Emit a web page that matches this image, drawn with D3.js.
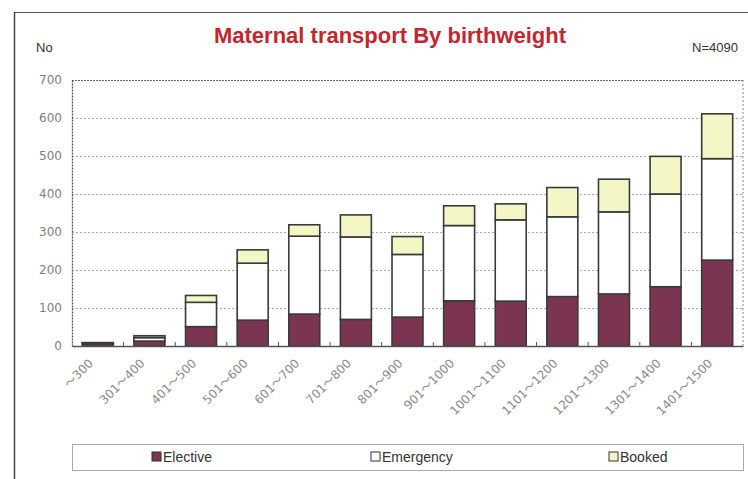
<!DOCTYPE html>
<html>
<head>
<meta charset="utf-8">
<script src="https://cdn.jsdelivr.net/npm/d3@7"></script>
<style>
  html, body { margin: 0; padding: 0; background: #fff; }
  svg { display: block; }
</style>
</head>
<body>
<svg id="chart" width="748" height="479"></svg>
<script>
// ---- data ----
const categories = ["〜300", "301〜400", "401〜500", "501〜600", "601〜700", "701〜800", "801〜900",
  "901〜1000", "1001〜1100", "1101〜1200", "1201〜1300", "1301〜1400", "1401〜1500"];
const elective  = [6, 13, 51, 68, 84, 70, 76, 119, 118, 130, 137, 156, 226];
const emergency = [2, 9, 64, 150, 205, 217, 165, 198, 214, 210, 216, 244, 267];
const booked    = [1, 5, 18, 35, 30, 58, 47, 52, 42, 77, 86, 99, 118];
const seriesNames = ["Elective", "Emergency", "Booked"];
const yTicks = [0, 100, 200, 300, 400, 500, 600, 700];

const colors = { Elective: "#7b3552", Emergency: "#ffffff", Booked: "#f4f6c6" };

const svg = d3.select("#chart");
const W = 748, H = 479;
const m = { left: 72, right: 5, top: 80, bottom: 133 };
const pw = W - m.left - m.right, ph = H - m.top - m.bottom;

// outer frame (top and left visible)
svg.append("line").attr("x1", 14).attr("x2", W).attr("y1", 12.5).attr("y2", 12.5)
  .attr("stroke", "#555").attr("stroke-width", 1.2);
svg.append("line").attr("x1", 14.5).attr("x2", 14.5).attr("y1", 12).attr("y2", H)
  .attr("stroke", "#444").attr("stroke-width", 1.5);

// title & labels
svg.append("text").attr("x", 390).attr("y", 43).attr("text-anchor", "middle")
  .attr("font-family", "Liberation Sans, Arial, sans-serif").attr("font-weight", "bold")
  .attr("font-size", 22).attr("fill", "#c2262e").text("Maternal transport By birthweight");
svg.append("text").attr("x", 36).attr("y", 52)
  .attr("font-family", "Liberation Sans, Arial, sans-serif").attr("font-size", 13)
  .attr("fill", "#333").text("No");
svg.append("text").attr("x", 738).attr("y", 52).attr("text-anchor", "end")
  .attr("font-family", "Liberation Sans, Arial, sans-serif").attr("font-size", 13)
  .attr("fill", "#333").text("N=4090");

const g = svg.append("g").attr("transform", `translate(${m.left},${m.top})`);

const x = d3.scaleBand().domain(categories).range([0, pw]).paddingInner(0.4).paddingOuter(0.2);
const y = d3.scaleLinear().domain([0, 700]).range([ph, 0]);

// gridlines
g.append("g").selectAll("line").data(yTicks.filter(t => t > 0 && t < 700)).join("line")
  .attr("x1", 0).attr("x2", pw).attr("y1", d => y(d) + 0.5).attr("y2", d => y(d) + 0.5)
  .attr("stroke", "#aaa").attr("stroke-width", 1).attr("stroke-dasharray", "2,2");

// plot border (top and right dotted)
g.append("line").attr("x1", 0).attr("x2", pw).attr("y1", 0.5).attr("y2", 0.5)
  .attr("stroke", "#666").attr("stroke-width", 1.2).attr("stroke-dasharray", "2,1");
g.append("line").attr("x1", pw).attr("x2", pw).attr("y1", 0).attr("y2", ph)
  .attr("stroke", "#888").attr("stroke-width", 1).attr("stroke-dasharray", "2,2");

// y axis
const yAxis = g.append("g").call(d3.axisLeft(y).tickValues(yTicks).tickSize(0).tickPadding(10));
yAxis.select(".domain").attr("stroke", "#555").attr("stroke-width", 1.3).attr("stroke-dasharray", "2,1");
yAxis.selectAll("text").attr("font-family", "DejaVu Sans, Verdana, sans-serif")
  .attr("font-size", 12).attr("fill", "#808080");

// stacked bars
const rows = categories.map((c, i) => ({ cat: c, Elective: elective[i], Emergency: emergency[i], Booked: booked[i] }));
const stack = d3.stack().keys(seriesNames)(rows);
g.append("g").selectAll("g").data(stack).join("g")
  .attr("fill", d => colors[d.key])
  .selectAll("rect").data(d => d).join("rect")
  .attr("x", d => x(d.data.cat)).attr("width", x.bandwidth())
  .attr("y", d => y(d[1])).attr("height", d => y(d[0]) - y(d[1]))
  .attr("stroke", "#3a3a3a").attr("stroke-width", 1.6);

// x axis baseline with boundary ticks
const xAxis = g.append("g").attr("transform", `translate(0,${ph})`)
  .call(d3.axisBottom(x).tickSize(0).tickPadding(0));
xAxis.select(".domain").attr("stroke", "#555").attr("stroke-width", 1.3);
const step = x.step();
const bounds = categories.slice(1).map(c => x(c) - (step - x.bandwidth()) / 2);
xAxis.selectAll("line.bt").data(bounds).join("line").attr("class", "bt")
  .attr("x1", d => d).attr("x2", d => d).attr("y1", 0).attr("y2", -4)
  .attr("stroke", "#555").attr("stroke-width", 1);
xAxis.selectAll(".tick text")
  .attr("font-family", "DejaVu Sans, 'Noto Sans CJK JP', sans-serif").attr("font-size", 12)
  .attr("fill", "#8a8a8a").attr("text-anchor", "end")
  .attr("dy", 0).attr("transform", "translate(-4,18) rotate(-45)");

// legend
const lg = svg.append("g");
lg.append("rect").attr("x", 72.5).attr("y", 444.5).attr("width", 671).attr("height", 26)
  .attr("fill", "#fff").attr("stroke", "#aaa").attr("stroke-width", 1);
const legX = [152, 371, 609];
seriesNames.forEach((s, i) => {
  lg.append("rect").attr("x", legX[i]).attr("y", 452).attr("width", 9).attr("height", 9)
    .attr("fill", colors[s]).attr("stroke", "#333").attr("stroke-width", 1);
  lg.append("text").attr("x", legX[i] + 11).attr("y", 461.5)
    .attr("font-family", "Liberation Sans Narrow, Liberation Sans, Arial, sans-serif").attr("font-size", 14)
    .attr("fill", "#333").text(s);
});
</script>
</body>
</html>
